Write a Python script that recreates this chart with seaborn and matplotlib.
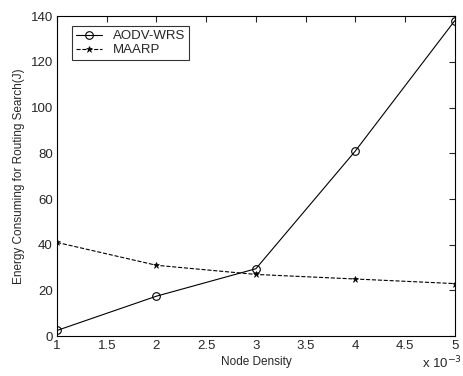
import matplotlib
matplotlib.use("Agg")
import matplotlib.pyplot as plt
import seaborn as sns
import pandas as pd

# values
node_density = [1, 2, 3, 4, 5]
aodv_wrs = [2.5, 17.5, 29.5, 81, 138]
maarp = [41, 31, 27, 25, 23]

xticks = [1, 1.5, 2, 2.5, 3, 3.5, 4, 4.5, 5]
xtick_labels = ["1", "1.5", "2", "2.5", "3", "3.5", "4", "4.5", "5"]
yticks = [0, 20, 40, 60, 80, 100, 120, 140]

sns.set_style("white")
plt.rcParams["font.family"] = ["Liberation Sans", "DejaVu Sans"]

df = pd.DataFrame({"Node Density": node_density, "AODV-WRS": aodv_wrs, "MAARP": maarp})

fig = plt.figure(figsize=(4.64, 3.76), dpi=100)
ax = fig.add_axes([0.123, 0.106, 0.857, 0.851])

sns.lineplot(data=df, x="Node Density", y="AODV-WRS", ax=ax, color="black",
             linewidth=0.8, marker="o", markersize=5.5, markerfacecolor="none",
             markeredgecolor="black", markeredgewidth=0.8, label="AODV-WRS")
sns.lineplot(data=df, x="Node Density", y="MAARP", ax=ax, color="black",
             linewidth=0.8, linestyle="--", dashes=(3, 2), marker="*",
             markersize=5, markerfacecolor="black", markeredgecolor="black",
             markeredgewidth=0.4, label="MAARP")

ax.set_xlim(1, 5)
ax.set_ylim(0, 140)
ax.set_xticks(xticks)
ax.set_xticklabels(xtick_labels)
ax.set_yticks(yticks)
ax.tick_params(direction="in", length=4, width=0.8, top=True, right=True,
               labelsize=9.5, pad=3)
for s in ax.spines.values():
    s.set_color("black")
    s.set_linewidth(0.8)

ax.set_xlabel("Node Density", fontsize=8.5, labelpad=3)
ax.set_ylabel("Energy Consuming for Routing Search(J)", fontsize=8.5, labelpad=4)
fig.text(0.995, 0.012, r"x 10$^{-3}$", fontsize=9.5, ha="right", va="bottom")

leg = ax.legend(loc="upper left", fontsize=9.5, frameon=True, fancybox=False,
                edgecolor="black", borderpad=0.3, handlelength=2.0,
                labelspacing=0.15, bbox_to_anchor=(0.02, 0.99))
leg.get_frame().set_linewidth(0.8)

fig.savefig("out.png", dpi=100)
